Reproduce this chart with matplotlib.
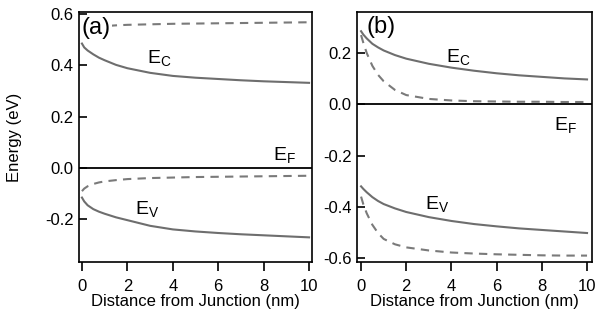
import matplotlib
matplotlib.use("Agg")
import matplotlib.pyplot as plt

plt.rcParams["font.family"] = ["Liberation Sans", "DejaVu Sans"]
plt.rcParams["mathtext.fontset"] = "custom"
plt.rcParams["mathtext.rm"] = "Liberation Sans"

# ── data ─────────────────────────────────────────────────────────────────────
x = [0, 0.1, 0.25, 0.5, 0.75, 1, 1.5, 2, 3, 4, 5, 6, 7, 8, 9, 10]

# panel (a)
a_ec = [0.485, 0.47, 0.458, 0.443, 0.43, 0.42, 0.402, 0.389, 0.371, 0.359, 0.352, 0.347, 0.342, 0.338, 0.335, 0.332]
a_ec_dash = [0.52, 0.53, 0.54, 0.547, 0.551, 0.553, 0.556, 0.558, 0.560, 0.562, 0.563, 0.564, 0.565, 0.566, 0.567, 0.568]
a_ev = [-0.115, -0.13, -0.145, -0.16, -0.17, -0.178, -0.192, -0.203, -0.225, -0.239, -0.247, -0.253, -0.258, -0.262, -0.266, -0.27]
a_ev_dash = [-0.09, -0.08, -0.071, -0.062, -0.056, -0.052, -0.047, -0.043, -0.039, -0.037, -0.035, -0.034, -0.033, -0.032, -0.031, -0.03]

# panel (b)
b_ec = [0.285, 0.272, 0.257, 0.236, 0.222, 0.21, 0.192, 0.178, 0.158, 0.143, 0.131, 0.121, 0.113, 0.107, 0.101, 0.097]
b_ec_dash = [0.27, 0.24, 0.2, 0.15, 0.115, 0.09, 0.056, 0.036, 0.021, 0.015, 0.012, 0.011, 0.01, 0.01, 0.009, 0.009]
b_ev = [-0.32, -0.33, -0.343, -0.362, -0.377, -0.389, -0.406, -0.42, -0.44, -0.455, -0.467, -0.476, -0.484, -0.49, -0.496, -0.502]
b_ev_dash = [-0.36, -0.39, -0.425, -0.47, -0.502, -0.525, -0.546, -0.558, -0.57, -0.578, -0.582, -0.585, -0.587, -0.589, -0.59, -0.59]

a_yticks = [-0.2, 0.0, 0.2, 0.4, 0.6]
b_yticks = [-0.6, -0.4, -0.2, 0.0, 0.2]
xticks = [0, 2, 4, 6, 8, 10]

GRAY = "#6e6e6e"
DASH = "#7a7a7a"


def _style(ax, yticks, ylim, xlim):
    ax.set_xlim(*xlim)
    ax.set_ylim(*ylim)
    ax.set_xticks(xticks)
    ax.set_yticks(yticks)
    ax.set_yticklabels([f"{v:.1f}" for v in yticks])
    ax.tick_params(axis="y", direction="in", length=6, width=1.2, pad=4, labelsize=12)
    ax.tick_params(axis="x", direction="out", length=6.5, width=1.2, pad=6, labelsize=12)
    for s in ax.spines.values():
        s.set_linewidth(1.2)
    ax.axhline(0, color="black", lw=1.3, zorder=3)
    ax.set_xlabel("Distance from Junction (nm)", fontsize=12, labelpad=0)


fig = plt.figure(figsize=(5.95, 3.2), dpi=100)
ax_a = fig.add_axes([79 / 595, 58 / 320, 233 / 595, 250 / 320])
ax_b = fig.add_axes([357 / 595, 58 / 320, 235 / 595, 250 / 320])

# (a)
ax_a.plot(x, a_ec, color=GRAY, lw=1.5)
ax_a.plot(x, a_ev, color=GRAY, lw=1.5)
ax_a.plot(x, a_ec_dash, color=DASH, lw=1.5, ls=(0, (4, 3)))
ax_a.plot(x, a_ev_dash, color=DASH, lw=1.5, ls=(0, (4, 3)))
_style(ax_a, a_yticks, (-0.366, 0.608), (-0.13, 10.13))
ax_a.set_ylabel("Energy (eV)", fontsize=12)
ax_a.yaxis.set_label_coords(-0.245, 0.5)
ax_a.text(0.0, 0.587, "(a)", fontsize=17, va="top", ha="left",
          bbox=dict(facecolor="white", edgecolor="none", pad=1.0), zorder=4)
ax_a.text(2.85, 0.43, r"$\mathregular{E_C}$", fontsize=14, va="center")
ax_a.text(8.4, 0.05, r"$\mathregular{E_F}$", fontsize=14, va="center")
ax_a.text(2.35, -0.16, r"$\mathregular{E_V}$", fontsize=14, va="center")

# (b)
ax_b.plot(x, b_ec, color=GRAY, lw=1.5)
ax_b.plot(x, b_ev, color=GRAY, lw=1.5)
ax_b.plot(x, b_ec_dash, color=DASH, lw=1.5, ls=(0, (4, 3)))
ax_b.plot(x, b_ev_dash, color=DASH, lw=1.5, ls=(0, (4, 3)))
_style(ax_b, b_yticks, (-0.615, 0.36), (-0.18, 10.22))
ax_b.text(0.25, 0.345, "(b)", fontsize=17, va="top", ha="left")
ax_b.text(3.75, 0.185, r"$\mathregular{E_C}$", fontsize=14, va="center")
ax_b.text(8.55, -0.08, r"$\mathregular{E_F}$", fontsize=14, va="center")
ax_b.text(2.85, -0.39, r"$\mathregular{E_V}$", fontsize=14, va="center")

fig.savefig("out.png", dpi=100)
